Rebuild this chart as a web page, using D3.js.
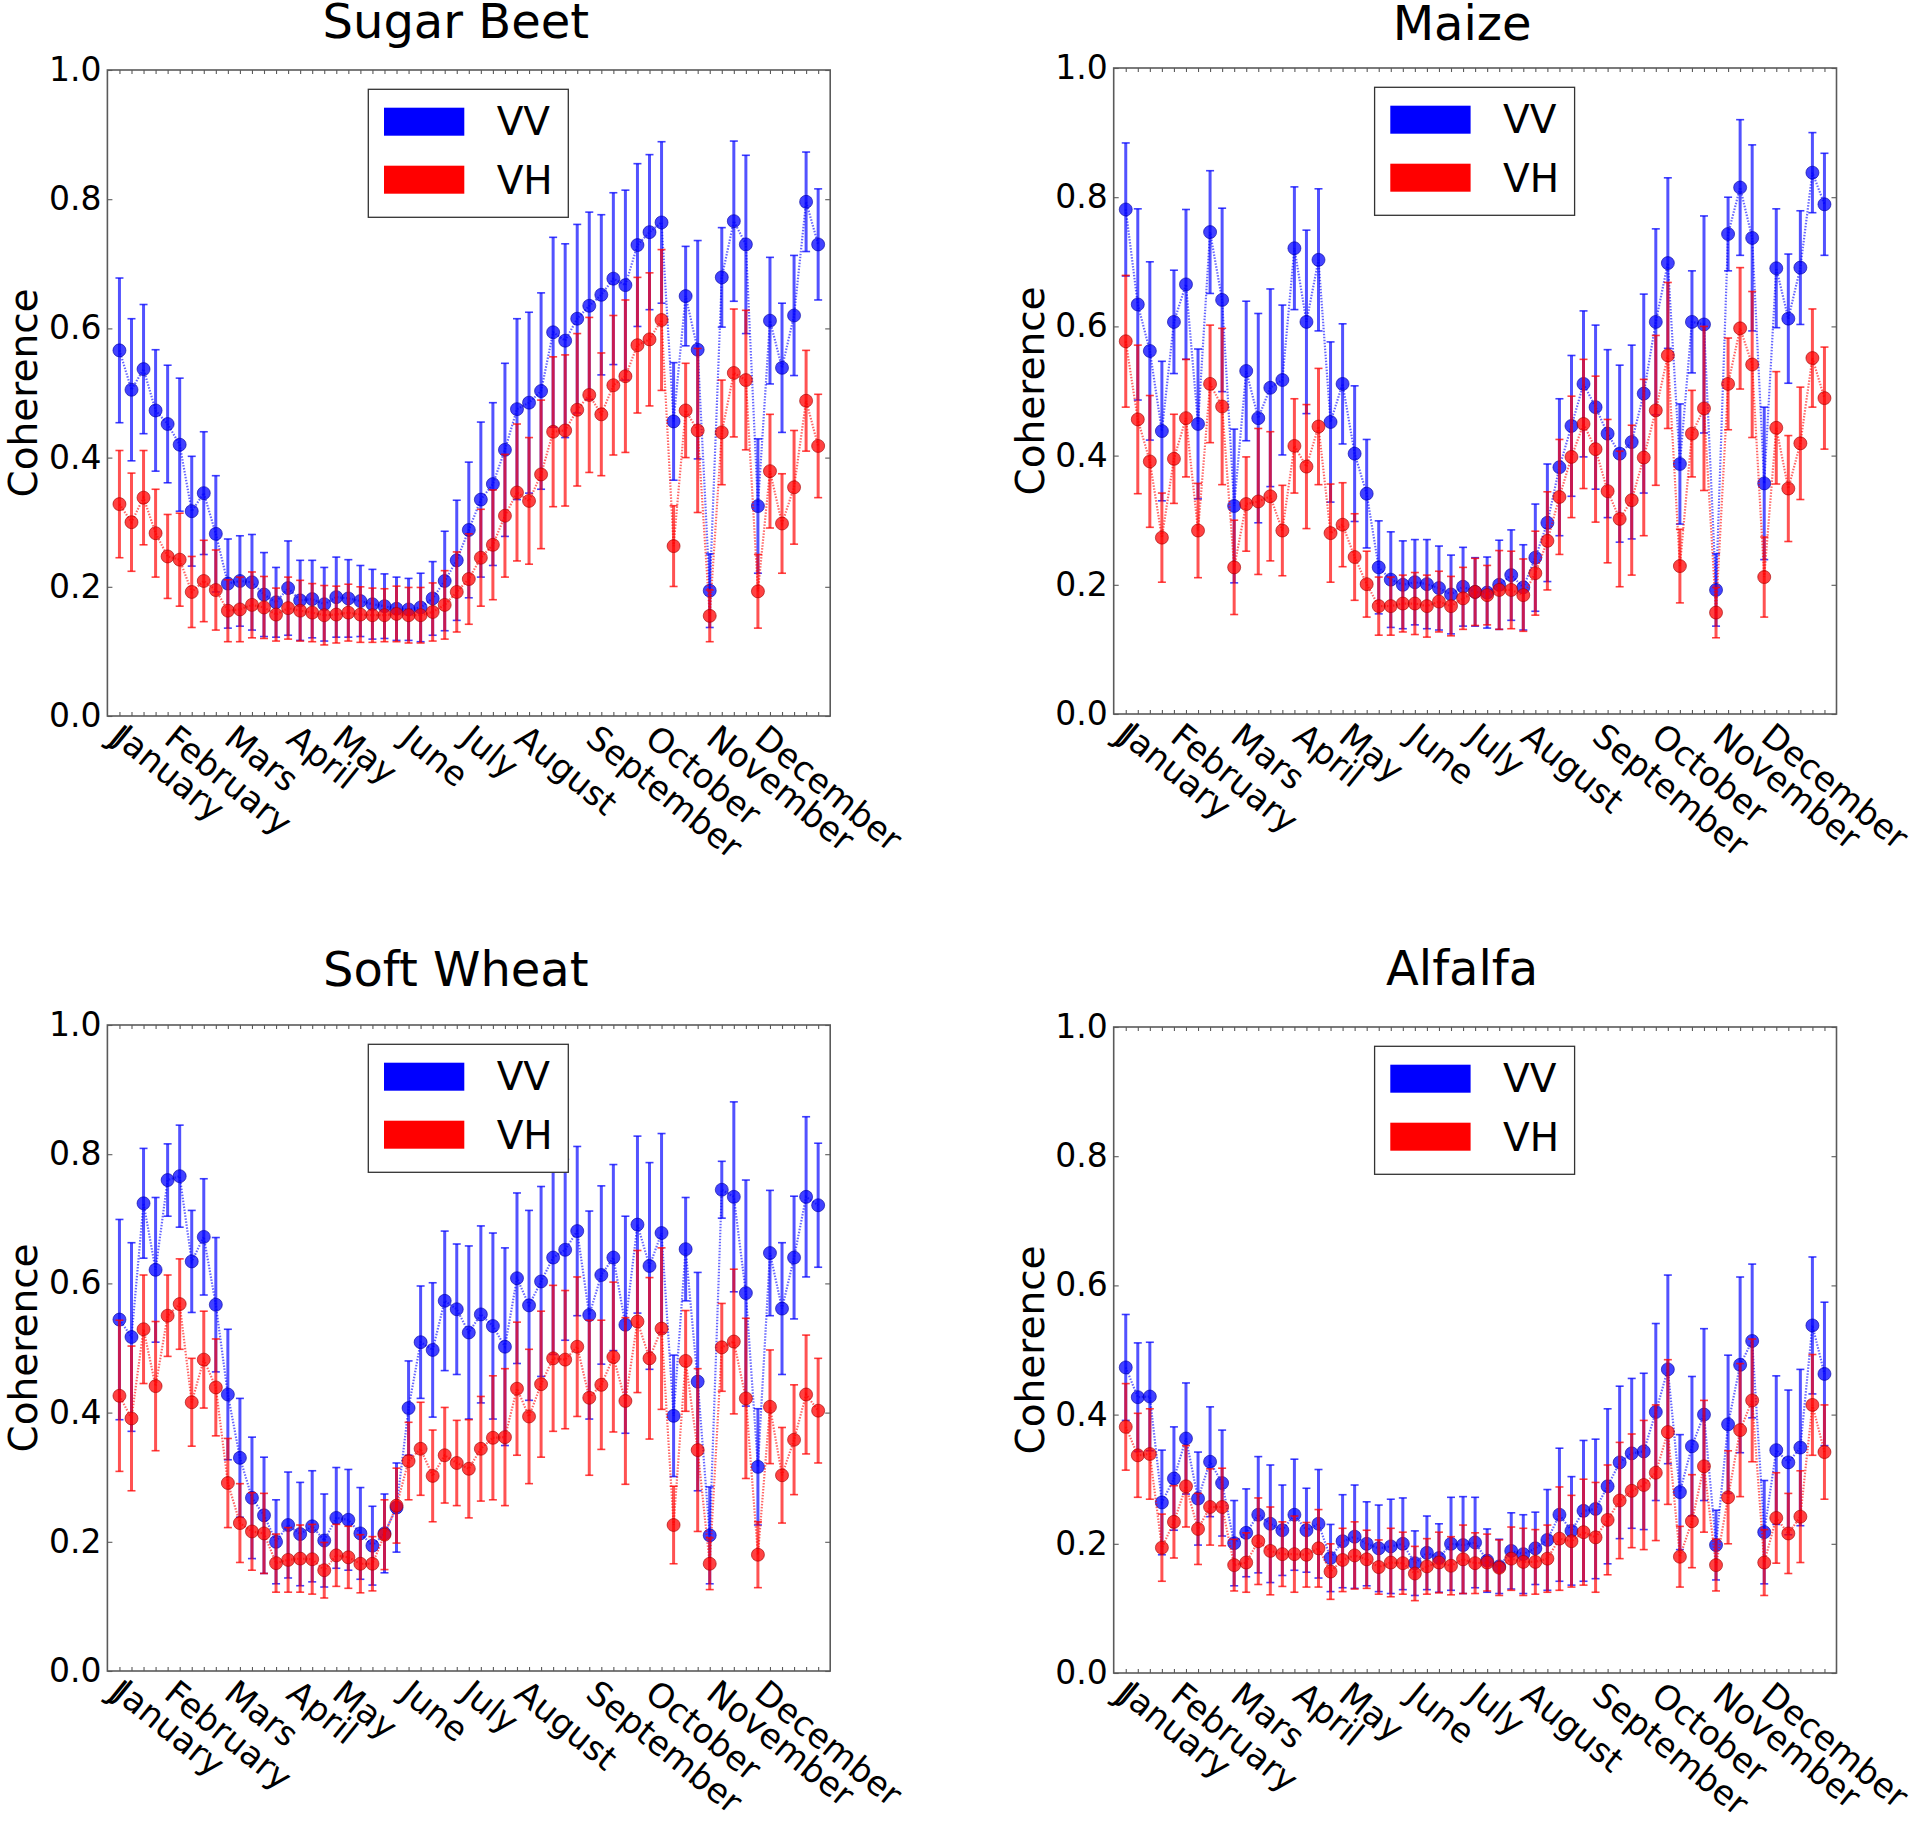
<!DOCTYPE html>
<html>
<head>
<meta charset="utf-8">
<script src="https://cdn.jsdelivr.net/npm/d3@7"></script>
<style>
  html, body { margin: 0; padding: 0; background: #ffffff; }
  svg { display: block; }
  text { font-family: "DejaVu Sans", Verdana, sans-serif; fill: #000; }
</style>
</head>
<body>
<svg id="chart" width="1920" height="1832"></svg>
<script>
// ---------------- DATA ----------------
const monthLabels = ["J", "January", "February", "Mars", "April", "May", "June", "July",
  "August", "September", "October", "November", "December"];
// label anchor positions, in acquisition-index units
const monthPos = [-0.07, 0.41, 4.58, 9.56, 14.73, 18.53, 24.17, 29.18, 33.64, 39.56, 44.48, 49.57, 53.58];
const yTicks = [0.0, 0.2, 0.4, 0.6, 0.8, 1.0];
const seriesNames = ["VV", "VH"];

const sugarBeetVV = [0.566,0.505,0.537,0.473,0.452,0.420,0.317,0.345,0.282,0.205,
  0.209,0.207,0.188,0.176,0.198,0.179,0.181,0.173,0.184,0.182,
  0.178,0.173,0.170,0.166,0.165,0.168,0.182,0.209,0.241,0.288,
  0.335,0.359,0.412,0.475,0.485,0.503,0.594,0.581,0.615,0.635,
  0.652,0.677,0.667,0.729,0.749,0.764,0.456,0.650,0.567,0.194,
  0.679,0.766,0.730,0.325,0.612,0.539,0.620,0.796,0.730];
const sugarBeetVVErr = [0.112,0.11,0.10,0.094,0.091,0.103,0.085,0.095,0.09,0.069,
  0.07,0.074,0.065,0.054,0.073,0.062,0.06,0.057,0.062,0.06,
  0.055,0.054,0.05,0.049,0.048,0.053,0.057,0.077,0.093,0.105,
  0.12,0.126,0.134,0.14,0.14,0.152,0.147,0.15,0.146,0.145,
  0.124,0.133,0.147,0.126,0.12,0.125,0.091,0.077,0.169,0.057,
  0.077,0.124,0.138,0.104,0.098,0.1,0.093,0.077,0.086];
const sugarBeetVH = [0.328,0.300,0.338,0.283,0.247,0.242,0.192,0.209,0.195,0.163,
  0.165,0.172,0.168,0.157,0.167,0.163,0.160,0.156,0.157,0.160,
  0.157,0.156,0.156,0.158,0.156,0.156,0.161,0.172,0.192,0.212,
  0.245,0.265,0.310,0.346,0.333,0.374,0.440,0.442,0.474,0.497,
  0.467,0.512,0.526,0.574,0.583,0.613,0.263,0.473,0.442,0.155,
  0.439,0.531,0.520,0.193,0.379,0.298,0.354,0.488,0.418];
const sugarBeetVHErr = [0.083,0.076,0.073,0.068,0.065,0.072,0.055,0.063,0.062,0.048,
  0.05,0.051,0.048,0.041,0.048,0.047,0.045,0.046,0.044,0.044,
  0.043,0.042,0.041,0.043,0.043,0.043,0.045,0.053,0.062,0.07,
  0.075,0.085,0.095,0.106,0.098,0.115,0.116,0.117,0.118,0.12,
  0.095,0.108,0.118,0.105,0.103,0.109,0.0625,0.073,0.127,0.04,
  0.081,0.099,0.108,0.057,0.088,0.077,0.088,0.078,0.08];

const maizeVV = [0.781,0.634,0.562,0.438,0.607,0.665,0.449,0.746,0.641,0.322,
  0.531,0.458,0.505,0.517,0.721,0.607,0.703,0.452,0.511,0.403,
  0.341,0.227,0.208,0.200,0.204,0.201,0.195,0.185,0.197,0.189,
  0.188,0.200,0.215,0.196,0.242,0.296,0.382,0.446,0.511,0.475,
  0.434,0.403,0.421,0.496,0.607,0.698,0.387,0.607,0.603,0.192,
  0.743,0.815,0.737,0.357,0.690,0.612,0.691,0.838,0.789];
const maizeVVErr = [0.103,0.148,0.138,0.108,0.080,0.116,0.116,0.095,0.142,0.119,
  0.108,0.162,0.153,0.116,0.095,0.142,0.110,0.124,0.093,0.105,
  0.084,0.072,0.074,0.068,0.066,0.069,0.065,0.061,0.061,0.053,
  0.055,0.069,0.070,0.066,0.083,0.091,0.106,0.109,0.113,0.127,
  0.130,0.137,0.150,0.154,0.144,0.132,0.093,0.079,0.168,0.056,
  0.057,0.105,0.144,0.118,0.092,0.100,0.088,0.062,0.079];
const maizeVH = [0.577,0.456,0.391,0.273,0.395,0.458,0.284,0.511,0.476,0.227,
  0.325,0.329,0.337,0.284,0.415,0.383,0.445,0.280,0.293,0.243,
  0.201,0.167,0.167,0.171,0.171,0.167,0.174,0.167,0.179,0.189,
  0.184,0.192,0.192,0.184,0.218,0.268,0.336,0.398,0.449,0.410,
  0.345,0.302,0.331,0.397,0.470,0.555,0.229,0.434,0.473,0.157,
  0.511,0.597,0.541,0.212,0.443,0.349,0.419,0.551,0.489];
const maizeVHErr = [0.102,0.115,0.102,0.069,0.069,0.091,0.073,0.091,0.121,0.073,
  0.073,0.113,0.100,0.070,0.073,0.096,0.090,0.076,0.065,0.067,
  0.051,0.045,0.045,0.044,0.048,0.048,0.047,0.046,0.048,0.052,
  0.046,0.061,0.060,0.056,0.065,0.076,0.089,0.094,0.100,0.113,
  0.111,0.105,0.116,0.121,0.116,0.113,0.057,0.067,0.127,0.039,
  0.071,0.094,0.113,0.062,0.087,0.082,0.087,0.076,0.079];

const softWheatVV = [0.544,0.517,0.724,0.621,0.760,0.766,0.634,0.672,0.567,0.428,
  0.330,0.268,0.241,0.200,0.226,0.212,0.224,0.202,0.237,0.234,
  0.213,0.194,0.213,0.253,0.407,0.509,0.497,0.573,0.560,0.524,
  0.552,0.534,0.502,0.608,0.566,0.603,0.640,0.652,0.681,0.551,
  0.613,0.640,0.536,0.691,0.627,0.678,0.395,0.653,0.448,0.210,
  0.745,0.734,0.585,0.316,0.647,0.561,0.640,0.734,0.721];
const softWheatVVErr = [0.155,0.146,0.085,0.112,0.056,0.079,0.079,0.090,0.104,0.101,
  0.092,0.094,0.090,0.065,0.082,0.080,0.086,0.072,0.078,0.078,
  0.071,0.061,0.061,0.069,0.073,0.087,0.104,0.108,0.101,0.134,
  0.137,0.144,0.153,0.132,0.147,0.147,0.150,0.140,0.131,0.161,
  0.138,0.144,0.168,0.137,0.160,0.154,0.094,0.080,0.169,0.075,
  0.044,0.147,0.175,0.090,0.097,0.102,0.095,0.124,0.096];
const softWheatVH = [0.426,0.391,0.529,0.441,0.550,0.568,0.416,0.482,0.439,0.291,
  0.229,0.216,0.213,0.167,0.172,0.174,0.173,0.156,0.179,0.176,
  0.166,0.166,0.211,0.256,0.325,0.344,0.302,0.334,0.322,0.313,
  0.344,0.361,0.362,0.437,0.394,0.444,0.484,0.482,0.502,0.423,
  0.443,0.486,0.418,0.541,0.484,0.530,0.226,0.480,0.342,0.166,
  0.501,0.510,0.422,0.180,0.409,0.303,0.358,0.428,0.403];
const softWheatVHErr = [0.117,0.112,0.084,0.100,0.063,0.070,0.068,0.075,0.075,0.069,
  0.061,0.060,0.062,0.045,0.050,0.052,0.054,0.043,0.048,0.048,
  0.045,0.042,0.054,0.058,0.060,0.072,0.071,0.074,0.066,0.076,
  0.081,0.096,0.106,0.103,0.104,0.113,0.113,0.107,0.108,0.120,
  0.100,0.116,0.129,0.110,0.125,0.125,0.060,0.078,0.126,0.040,
  0.068,0.112,0.124,0.051,0.088,0.074,0.085,0.092,0.081];

const alfalfaVV = [0.473,0.427,0.428,0.264,0.301,0.363,0.270,0.327,0.294,0.201,
  0.217,0.245,0.231,0.221,0.245,0.221,0.231,0.178,0.204,0.211,
  0.200,0.193,0.196,0.200,0.170,0.186,0.178,0.200,0.198,0.202,
  0.174,0.165,0.189,0.184,0.193,0.206,0.245,0.220,0.251,0.254,
  0.289,0.326,0.340,0.343,0.404,0.470,0.280,0.351,0.400,0.198,
  0.385,0.477,0.514,0.218,0.345,0.326,0.349,0.538,0.463];
const alfalfaVVErr = [0.082,0.084,0.084,0.081,0.080,0.086,0.072,0.085,0.082,0.066,
  0.068,0.090,0.091,0.070,0.086,0.065,0.084,0.052,0.072,0.080,
  0.065,0.067,0.073,0.071,0.050,0.057,0.053,0.072,0.075,0.070,
  0.049,0.042,0.059,0.061,0.056,0.078,0.103,0.084,0.109,0.108,
  0.120,0.118,0.116,0.121,0.137,0.146,0.089,0.108,0.133,0.054,
  0.107,0.136,0.119,0.080,0.115,0.112,0.121,0.106,0.111];
const alfalfaVH = [0.381,0.337,0.339,0.194,0.234,0.289,0.223,0.257,0.257,0.167,
  0.171,0.204,0.189,0.184,0.184,0.183,0.193,0.157,0.175,0.182,
  0.176,0.164,0.171,0.170,0.154,0.165,0.171,0.166,0.176,0.170,
  0.171,0.163,0.177,0.172,0.172,0.177,0.208,0.204,0.218,0.210,
  0.237,0.267,0.282,0.291,0.310,0.373,0.180,0.235,0.320,0.167,
  0.272,0.376,0.422,0.171,0.240,0.216,0.242,0.415,0.342];
const alfalfaVHErr = [0.067,0.065,0.070,0.052,0.056,0.063,0.055,0.059,0.060,0.040,
  0.046,0.067,0.068,0.050,0.059,0.050,0.060,0.043,0.049,0.052,
  0.045,0.042,0.053,0.048,0.042,0.043,0.047,0.045,0.053,0.047,
  0.044,0.043,0.049,0.052,0.050,0.052,0.080,0.071,0.082,0.085,
  0.085,0.090,0.088,0.100,0.105,0.112,0.047,0.072,0.102,0.040,
  0.072,0.103,0.095,0.051,0.070,0.062,0.071,0.078,0.073];

// ---------------- LAYOUT / STYLE ----------------
const panels = [
  { title: "Sugar Beet", vv: sugarBeetVV, vvErr: sugarBeetVVErr, vh: sugarBeetVH, vhErr: sugarBeetVHErr,
    left: 107.4, top: 70, titleY: 38 },
  { title: "Maize", vv: maizeVV, vvErr: maizeVVErr, vh: maizeVH, vhErr: maizeVHErr,
    left: 1113.7, top: 68, titleY: 39.5 },
  { title: "Soft Wheat", vv: softWheatVV, vvErr: softWheatVVErr, vh: softWheatVH, vhErr: softWheatVHErr,
    left: 107.4, top: 1025, titleY: 986 },
  { title: "Alfalfa", vv: alfalfaVV, vvErr: alfalfaVVErr, vh: alfalfaVH, vhErr: alfalfaVHErr,
    left: 1113.7, top: 1027, titleY: 985 }
];
const plotW = 722.8, plotH = 646;
const labelAngle = 39;
const colors = { VV: "#0000ff", VH: "#ff0000" };
const edgeColors = { VV: "#0000a0", VH: "#a00000" };

const svg = d3.select("#chart");
svg.append("rect").attr("width", 1920).attr("height", 1832).attr("fill", "#fff");

panels.forEach(p => {
  const g = svg.append("g");
  const x = d3.scaleLinear().domain([0, 60]).range([p.left, p.left + plotW]);
  const y = d3.scaleLinear().domain([0, 1]).range([p.top + plotH, p.top]);
  const idx = d3.range(1, p.vv.length + 1);

  // frame
  g.append("rect")
    .attr("x", x(0)).attr("y", y(1))
    .attr("width", x(60) - x(0)).attr("height", y(0) - y(1))
    .attr("fill", "none").attr("stroke", "#5a5a5a").attr("stroke-width", 1.6);

  // x ticks bottom / top (inward)
  const xb = g.append("g").attr("transform", `translate(0,${y(0)})`)
    .call(d3.axisBottom(x).tickValues(idx).tickSize(-4).tickFormat(""));
  const xt = g.append("g").attr("transform", `translate(0,${y(1)})`)
    .call(d3.axisTop(x).tickValues(idx).tickSize(-4).tickFormat(""));
  // y ticks left with labels, right without
  const yl = g.append("g").attr("transform", `translate(${x(0)},0)`)
    .call(d3.axisLeft(y).tickValues(yTicks).tickSize(-5).tickPadding(6).tickFormat(d3.format(".1f")));
  const yr = g.append("g").attr("transform", `translate(${x(60)},0)`)
    .call(d3.axisRight(y).tickValues(yTicks).tickSize(-5).tickFormat(""));
  [xb, xt, yl, yr].forEach(a => {
    a.select(".domain").remove();
    a.selectAll(".tick line").attr("stroke", "#5a5a5a").attr("stroke-width", 1.1);
  });
  yl.selectAll(".tick text")
    .style("font-family", '"DejaVu Sans", sans-serif')
    .attr("font-size", 33).attr("fill", "#000");

  // month labels (rotated)
  monthLabels.forEach((m, k) => {
    const x0 = x(monthPos[k]), y0 = y(0) + 26;
    g.append("text")
      .attr("x", x0).attr("y", y0)
      .attr("transform", `rotate(${labelAngle},${x0},${y0})`)
      .attr("font-size", 34)
      .attr("text-anchor", "start")
      .text(m);
  });

  // title
  g.append("text")
    .attr("x", (x(0) + x(60)) / 2 - 13).attr("y", p.titleY)
    .attr("text-anchor", "middle").attr("font-size", 48)
    .text(p.title);

  // y label
  g.append("text")
    .attr("transform", `translate(${x(0) - 70.1},${(y(0) + y(1)) / 2}) rotate(-90)`)
    .attr("text-anchor", "middle").attr("font-size", 39)
    .text("Coherence");

  // series
  const series = [
    { name: "VV", vals: p.vv, errs: p.vvErr },
    { name: "VH", vals: p.vh, errs: p.vhErr }
  ];
  series.forEach(s => {
    const c = colors[s.name];
    const sg = g.append("g");
    const pts = s.vals.map((v, i) => ({ i: i + 1, v, e: s.errs[i] }));
    // dotted connecting line
    sg.append("path")
      .datum(pts)
      .attr("d", d3.line().x(d => x(d.i)).y(d => y(d.v)))
      .attr("fill", "none").attr("stroke", c)
      .attr("stroke-width", 2.2).attr("stroke-dasharray", "1.5,1.5")
      .attr("stroke-opacity", 0.6);
    // error bars
    sg.selectAll("line.bar").data(pts).enter().append("line")
      .attr("class", "bar")
      .attr("x1", d => x(d.i)).attr("x2", d => x(d.i))
      .attr("y1", d => y(d.v - d.e)).attr("y2", d => y(d.v + d.e))
      .attr("stroke", c).attr("stroke-width", 3).attr("stroke-opacity", 0.68);
    // caps
    ["lo", "hi"].forEach(side => {
      sg.selectAll("line.cap" + side).data(pts).enter().append("line")
        .attr("class", "cap" + side)
        .attr("x1", d => x(d.i) - 4).attr("x2", d => x(d.i) + 4)
        .attr("y1", d => y(side === "lo" ? d.v - d.e : d.v + d.e))
        .attr("y2", d => y(side === "lo" ? d.v - d.e : d.v + d.e))
        .attr("stroke", c).attr("stroke-width", 1.6).attr("stroke-opacity", 0.75);
    });
    // markers
    sg.selectAll("circle").data(pts).enter().append("circle")
      .attr("cx", d => x(d.i)).attr("cy", d => y(d.v)).attr("r", 6.5)
      .attr("fill", c).attr("fill-opacity", 0.74)
      .attr("stroke", edgeColors[s.name]).attr("stroke-opacity", 0.6).attr("stroke-width", 1);
  });

  // legend
  const lx = x(0) + 260.9, ly = y(1) + 19.3;
  const lg = g.append("g");
  lg.append("rect").attr("x", lx).attr("y", ly).attr("width", 200).attr("height", 128)
    .attr("fill", "#fff").attr("stroke", "#333").attr("stroke-width", 1.3);
  seriesNames.forEach((n, k) => {
    lg.append("rect").attr("x", lx + 15.7).attr("y", ly + 18.4 + k * 58)
      .attr("width", 80.3).attr("height", 28).attr("fill", colors[n]);
    lg.append("text").attr("x", lx + 128.4).attr("y", ly + 45.7 + k * 59)
      .attr("font-size", 39).text(n);
  });
});
</script>
</body>
</html>
